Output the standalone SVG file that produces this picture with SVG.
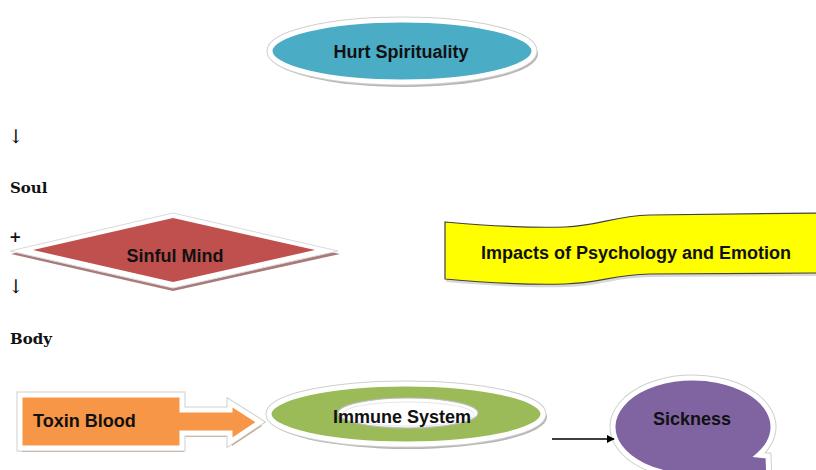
<svg xmlns="http://www.w3.org/2000/svg" width="816" height="470" viewBox="0 0 816 470">
<defs>
<style>
.lbl{font-family:"Liberation Sans",Arial,sans-serif;font-weight:bold;font-size:18px;fill:#111;}
.side{font-family:"DejaVu Serif","Liberation Serif",serif;font-weight:bold;font-size:15px;fill:#111;}
.arr{font-family:"DejaVu Serif","Liberation Serif",serif;font-size:19px;fill:#111;}
.shadow{fill:#b5b5b5;}
.edge{fill:none;stroke:#cfcfcf;stroke-width:7;stroke-linejoin:miter;}
.rim{stroke:#fff;stroke-width:5;stroke-linejoin:miter;}
</style>
<marker id="ah" viewBox="0 0 10 10" refX="9" refY="5" markerWidth="8" markerHeight="8" markerUnits="userSpaceOnUse" orient="auto">
<path d="M0,0 L10,5 L0,10 Z" fill="#000"/>
</marker>
</defs>
<rect width="816" height="470" fill="#fff"/>

<g id="hurt-spirituality">
<ellipse cx="404" cy="54" rx="134" ry="33" class="shadow"/>
<ellipse cx="402" cy="51" rx="132" ry="31" class="edge"/>
<ellipse cx="402" cy="51" rx="132" ry="31" fill="#4bacc6" class="rim"/>
<text x="401" y="58" text-anchor="middle" class="lbl">Hurt Spirituality</text>
</g>

<g id="side-labels">
<text x="8" y="143" class="arr">↓</text>
<text x="10" y="193" class="side">Soul</text>
<text x="9" y="242" class="side">+</text>
<text x="8" y="293" class="arr">↓</text>
<text x="10" y="344" class="side">Body</text>
</g>

<g id="sinful-mind">
<polygon points="11,254 173,216 340,254 173,291" fill="#a97a78"/>
<polygon points="10,251 173,213 338,251 173,288" fill="#fff" stroke="#dadada" stroke-width="1"/>
<polygon points="33,250 173,218 315,250 173,282" fill="#c0504d"/>
<text x="175" y="262" text-anchor="middle" class="lbl">Sinful Mind</text>
</g>

<g id="impacts">
<path d="M446,224 C491,228 531,230 566,229 C601,228 613,218 651,217 L820,215 L820,276 L651,277 C613,278 601,286 566,287 C531,288 491,286 446,282 Z" fill="#d8d8d8"/>
<path d="M445,222 C490,226 530,228 565,227 C600,226 612,216 650,215 L820,213 L820,273 L650,274 C612,275 600,283 565,284 C530,285 490,283 445,279 Z" fill="#ffff00" stroke="#404040" stroke-width="1.2"/>
<text x="636" y="259" text-anchor="middle" class="lbl">Impacts of Psychology and Emotion</text>
</g>

<g id="toxin-blood">
<path d="M22,399 H184 V414 H232 V407 L262,426 L232,446 V437 H184 V452 H22 Z" fill="#c9a27e"/>
<path d="M20,395 H182 V410 H230 V403 L260,422 L230,442 V433 H182 V448 H20 Z" class="edge"/>
<path d="M20,395 H182 V410 H230 V403 L260,422 L230,442 V433 H182 V448 H20 Z" fill="#f79646" class="rim"/>
<text x="33" y="427" class="lbl">Toxin Blood</text>
</g>

<g id="immune-system">
<ellipse cx="408" cy="417" rx="139" ry="32" class="shadow"/>
<ellipse cx="406" cy="414" rx="137" ry="30" class="edge"/>
<ellipse cx="406" cy="414" rx="137" ry="30" fill="#9bbb59" class="rim"/>
<ellipse cx="408" cy="413" rx="70" ry="15" fill="#fff" stroke="#bdbdbd" stroke-width="1.2"/>
<ellipse cx="408" cy="414" rx="66" ry="12" fill="none" stroke="#e6e6e6" stroke-width="1"/>
<text x="402" y="423" text-anchor="middle" class="lbl">Immune System</text>
</g>

<g id="sickness">
<path d="M715.7,477.3 A80,49 0 1 1 760.5,458.1 L770,459 L772,513 Z" class="shadow"/>
<path d="M713.7,474.3 A80,49 0 1 1 758.5,455.1 L768,456 L770,510 Z" class="edge"/>
<path d="M713.7,474.3 A80,49 0 1 1 758.5,455.1 L768,456 L770,510 Z" fill="#8064a2" class="rim"/>
<text x="692" y="425" text-anchor="middle" class="lbl">Sickness</text>
</g>

<g id="connectors">
<line x1="552" y1="439" x2="614" y2="439" stroke="#000" stroke-width="1.3" marker-end="url(#ah)"/>
</g>
</svg>
